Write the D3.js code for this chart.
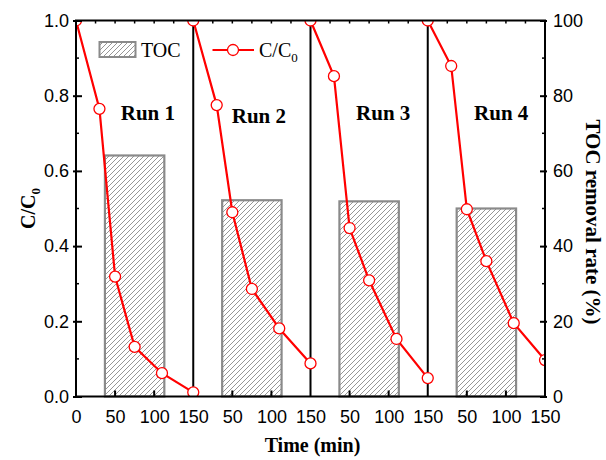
<!doctype html>
<html>
<head>
    <meta charset="UTF-8">
    <title>TOC runs</title>
    <script src="https://d3js.org/d3.v7.min.js"></script>
    <style>
        body{margin:0;background:#fff;}
        .tick text{font-family:"Liberation Sans",Arial,sans-serif;font-size:18px;}
        .ttl{font-family:"Liberation Serif","Times New Roman",serif;font-weight:bold;font-size:20px;}
    </style>
</head>
<body>
<script>
    // data
    var runs = ["Run 1","Run 2","Run 3","Run 4"];
    var times = [0,30,50,75,110,150];
    var cc0 = [
        [1.0,0.765,0.319,0.132,0.062,0.011],
        [1.0,0.775,0.490,0.286,0.181,0.088],
        [1.0,0.852,0.448,0.309,0.153,0.049],
        [1.0,0.879,0.498,0.360,0.195,0.097]
    ];
    var tocRemoval = [64.1,52.2,51.9,50.0];
    var tocTime = 75;      // bar centre (min)
    var tocWidth = 76;     // bar width (min)
    var leftTicks = [0,0.2,0.4,0.6,0.8,1.0];
    var rightTicks = [0,20,40,60,80,100];
    var timeTicks = [0,50,100,150];

    var w=606, h=460;
    var L=76, R=545, T=20.5, B=396.5;
    var runLen = 150;

    var svg = d3.select("body").append("svg").attr("width",w).attr("height",h);

    var x = d3.scaleLinear().domain([0,runLen*runs.length]).range([L,R]);
    var y = d3.scaleLinear().domain([0,1]).range([B,T]);
    var y2 = d3.scaleLinear().domain([0,100]).range([B,T]);

    // hatch pattern
    var defs = svg.append("defs");
    var pat = defs.append("pattern").attr("id","hatch").attr("patternUnits","userSpaceOnUse")
        .attr("width",5).attr("height",5);
    pat.append("rect").attr("width",5).attr("height",5).attr("fill","#fff");
    pat.append("path").attr("d","M0,5 L5,0 M-1,1 L1,-1 M4,6 L6,4")
        .attr("stroke","#8a8a8a").attr("stroke-width",0.9);
    defs.append("clipPath").attr("id","plot").append("rect")
        .attr("x",L).attr("y",T).attr("width",R-L).attr("height",B-T);

    // bars
    svg.selectAll("rect.bar").data(tocRemoval).enter().append("rect")
        .attr("class","bar")
        .attr("x",function(d,i){return x(i*runLen+tocTime-tocWidth/2);})
        .attr("width",function(d,i){return x(tocWidth)-x(0);})
        .attr("y",function(d){return y2(d);})
        .attr("height",function(d){return B-y2(d);})
        .attr("fill","url(#hatch)").attr("stroke","#8a8a8a").attr("stroke-width",2.2);

    // run dividers
    svg.selectAll("line.div").data(d3.range(1,runs.length)).enter().append("line")
        .attr("x1",function(d){return x(d*runLen);}).attr("x2",function(d){return x(d*runLen);})
        .attr("y1",T).attr("y2",B).attr("stroke","#000").attr("stroke-width",2);

    // one line per run + circles
    var g = svg.append("g").attr("clip-path","url(#plot)");
    var runPts = cc0.map(function(run,i){
        return run.map(function(v,j){ return {t:i*runLen+times[j], v:v}; });
    });
    var line = d3.line().x(function(d){return x(d.t);}).y(function(d){return y(d.v);});
    g.selectAll("path.run").data(runPts).enter().append("path")
        .attr("d",line).attr("fill","none").attr("stroke","#ff0000").attr("stroke-width",2.2);
    g.selectAll("circle").data(d3.merge(runPts)).enter().append("circle")
        .attr("cx",function(d){return x(d.t);}).attr("cy",function(d){return y(d.v);})
        .attr("r",5.5).attr("fill","#fff").attr("stroke","#ff0000").attr("stroke-width",1.3);

    // axes
    var allTime = [];
    runs.forEach(function(r,i){ timeTicks.forEach(function(t){ if(i==0||t>0) allTime.push(i*runLen+t); }); });
    var bottom = svg.append("g").attr("transform","translate(0,"+B+")")
        .call(d3.axisBottom(x).tickValues(allTime).tickSize(0).tickPadding(14)
            .tickFormat(function(d){ return d==0?"0":(d%runLen==0?runLen:d%runLen); }));
    bottom.select(".domain").remove();
    svg.selectAll("line.bt").data(allTime.filter(function(d){return d%runLen!=0;})).enter().append("line")
        .attr("x1",function(d){return x(d);}).attr("x2",function(d){return x(d);})
        .attr("y1",B).attr("y2",B-6).attr("stroke","#000").attr("stroke-width",2);
    var topTicks = d3.range(25,runLen*runs.length,25).filter(function(d){return d%runLen!=0;});
    svg.selectAll("line.tt").data(topTicks).enter().append("line")
        .attr("x1",function(d){return x(d);}).attr("x2",function(d){return x(d);})
        .attr("y1",T).attr("y2",T+3).attr("stroke","#000").attr("stroke-width",1.5);

    var left = svg.append("g").attr("transform","translate("+L+",0)")
        .call(d3.axisLeft(y).tickValues(leftTicks).tickSize(3).tickPadding(4).tickFormat(d3.format(".1f")));
    left.select(".domain").remove();
    left.selectAll(".tick line").attr("x2",-3).attr("x1",6).attr("stroke-width",2);
    svg.selectAll("line.lm").data(d3.range(0.1,1,0.2)).enter().append("line")
        .attr("x1",L).attr("x2",L+3).attr("y1",function(d){return y(d);}).attr("y2",function(d){return y(d);})
        .attr("stroke","#000").attr("stroke-width",1.5);

    var right = svg.append("g").attr("transform","translate("+R+",0)")
        .call(d3.axisRight(y2).tickValues(rightTicks).tickSize(2).tickPadding(6));
    right.select(".domain").remove();
    right.selectAll(".tick line").attr("x1",-5).attr("stroke-width",2);
    svg.selectAll("line.rm").data(d3.range(10,100,20)).enter().append("line")
        .attr("x1",R).attr("x2",R-3).attr("y1",function(d){return y2(d);}).attr("y2",function(d){return y2(d);})
        .attr("stroke","#000").attr("stroke-width",1.5);

    svg.append("rect").attr("x",L).attr("y",T).attr("width",R-L).attr("height",B-T)
        .attr("fill","none").attr("stroke","#000").attr("stroke-width",2);
    svg.selectAll(".tick text").attr("fill","#000");

    // run labels
    var runLabelT = [92,84,93,94];
    svg.selectAll("text.run").data(runs).enter().append("text").attr("class","ttl")
        .attr("x",function(d,i){return x(i*runLen+runLabelT[i]);})
        .attr("y",function(d,i){return i==1?123:120;})
        .style("font-size","21px")
        .attr("text-anchor","middle").text(function(d){return d;});

    // legend
    svg.append("rect").attr("x",99.5).attr("y",42).attr("width",36).attr("height",15)
        .attr("fill","url(#hatch)").attr("stroke","#8a8a8a").attr("stroke-width",2);
    svg.append("text").attr("x",141).attr("y",56.5)
        .style("font-family","'Liberation Serif',serif").style("font-size","20px").text("TOC");
    svg.append("line").attr("x1",212.5).attr("x2",254).attr("y1",50).attr("y2",50)
        .attr("stroke","#ff0000").attr("stroke-width",2.2);
    svg.append("circle").attr("cx",233).attr("cy",50).attr("r",5.5)
        .attr("fill","#fff").attr("stroke","#ff0000").attr("stroke-width",1.3);
    var lt = svg.append("text").attr("x",259).attr("y",56.5)
        .style("font-family","'Liberation Serif',serif").style("font-size","20px");
    lt.append("tspan").text("C/C");
    lt.append("tspan").attr("dy",5).style("font-size","13px").text("0");

    // axis titles
    svg.append("text").attr("class","ttl").attr("x",(L+R)/2+2).attr("y",452)
        .attr("text-anchor","middle").text("Time (min)");
    var yl = svg.append("text").attr("class","ttl").attr("text-anchor","middle")
        .attr("transform","translate(35,"+((T+B)/2)+") rotate(-90)");
    yl.append("tspan").text("C/C");
    yl.append("tspan").attr("dy",5).style("font-size","13px").text("0");
    svg.append("text").attr("class","ttl").attr("text-anchor","middle")
        .style("font-size","21px")
        .attr("transform","translate(586,222) rotate(90)")
        .text("TOC removal rate (%)");
</script>
</body>
</html>
